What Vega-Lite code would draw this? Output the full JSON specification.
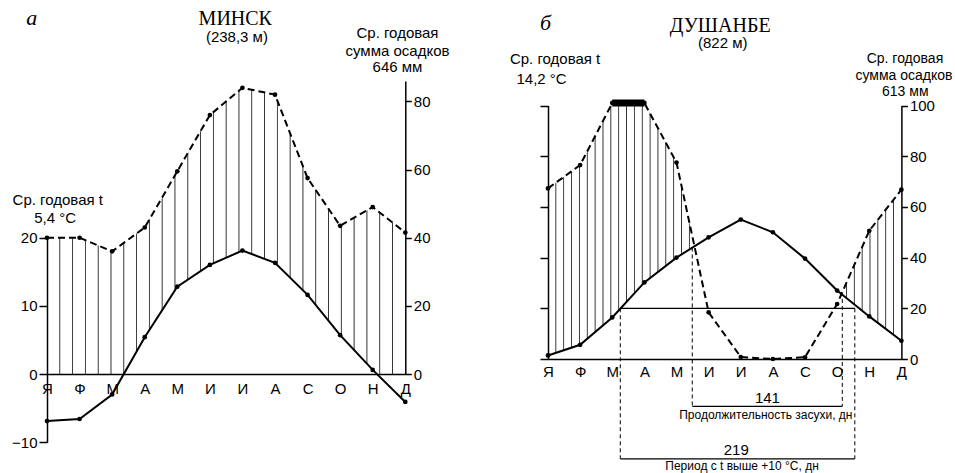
{
  "$schema": "https://vega.github.io/schema/vega-lite/v6.json",
  "background": "white",
  "padding": {"left": 11, "top": 7, "right": 0, "bottom": 0},
  "spacing": 59,
  "config": {
    "view": {"stroke": null},
    "text": {"font": "Liberation Sans", "fontSize": 15, "baseline": "alphabetic", "align": "center", "color": "black"},
    "axis": {"labelFont": "Liberation Sans", "labelFontSize": 15, "labelColor": "black", "domainColor": "black", "tickColor": "black", "domainWidth": 1.5, "tickWidth": 1.5, "grid": false}
  },
  "datasets": {
    "minsk": [
      {"month": 1, "t": -6.9, "p": 40},
      {"month": 2, "t": -6.6, "p": 40},
      {"month": 3, "t": -3.0, "p": 36},
      {"month": 4, "t": 5.4, "p": 43},
      {"month": 5, "t": 12.8, "p": 59.5},
      {"month": 6, "t": 16.0, "p": 76},
      {"month": 7, "t": 18.1, "p": 84},
      {"month": 8, "t": 16.3, "p": 82},
      {"month": 9, "t": 11.6, "p": 57.5},
      {"month": 10, "t": 5.7, "p": 43.5},
      {"month": 11, "t": 0.6, "p": 49},
      {"month": 12, "t": -4.1, "p": 41.5}
    ],
    "dushanbe": [
      {"month": 1, "t": 0.7, "p": 67.3},
      {"month": 2, "t": 2.8, "p": 76.5},
      {"month": 3, "t": 8.2, "p": 101},
      {"month": 4, "t": 15.1, "p": 101},
      {"month": 5, "t": 20.0, "p": 77.5},
      {"month": 6, "t": 24.0, "p": 18.4},
      {"month": 7, "t": 27.5, "p": 0.8},
      {"month": 8, "t": 25.0, "p": 0},
      {"month": 9, "t": 19.8, "p": 0.7},
      {"month": 10, "t": 13.5, "p": 21.7},
      {"month": 11, "t": 8.4, "p": 50.6},
      {"month": 12, "t": 3.6, "p": 66.8}
    ]
  },
  "hconcat": [
    {
      "width": 358.3,
      "height": 362,
      "data": {"name": "minsk"},
      "encoding": {
        "x": {"field": "month", "type": "quantitative", "scale": {"domain": [1, 12], "nice": false, "zero": false},
          "axis": {"values": [1,2,3,4,5,6,7,8,9,10,11,12], "labelExpr": "datum.value==1?'Я':datum.value==2?'Ф':datum.value==3?'М':datum.value==4?'А':datum.value==5?'М':datum.value==6?'И':datum.value==7?'И':datum.value==8?'А':datum.value==9?'С':datum.value==10?'О':datum.value==11?'Н':'Д'", "ticks": false, "offset": -69, "labelPadding": 7, "title": null, "labelFlush": false, "labelOverlap": false, "zindex": 1}}
      },
      "resolve": {"scale": {"y": "independent"}},
      "layer": [
        {
          "mark": {"type": "area", "opacity": 1, "fill": {"gradient": "linear", "x1": 0, "y1": 0, "x2": 1, "y2": 0, "stops": [
            {"offset": 0.0332, "color": "transparent"}, {"offset": 0.0357, "color": "#333"}, {"offset": 0.0382, "color": "transparent"},
            {"offset": 0.0689, "color": "transparent"}, {"offset": 0.0714, "color": "#333"}, {"offset": 0.0739, "color": "transparent"},
            {"offset": 0.1046, "color": "transparent"}, {"offset": 0.1071, "color": "#333"}, {"offset": 0.1096, "color": "transparent"},
            {"offset": 0.1404, "color": "transparent"}, {"offset": 0.1429, "color": "#333"}, {"offset": 0.1454, "color": "transparent"},
            {"offset": 0.1761, "color": "transparent"}, {"offset": 0.1786, "color": "#333"}, {"offset": 0.1811, "color": "transparent"},
            {"offset": 0.2118, "color": "transparent"}, {"offset": 0.2143, "color": "#333"}, {"offset": 0.2168, "color": "transparent"},
            {"offset": 0.2475, "color": "transparent"}, {"offset": 0.25, "color": "#333"}, {"offset": 0.2525, "color": "transparent"},
            {"offset": 0.2832, "color": "transparent"}, {"offset": 0.2857, "color": "#333"}, {"offset": 0.2882, "color": "transparent"},
            {"offset": 0.3189, "color": "transparent"}, {"offset": 0.3214, "color": "#333"}, {"offset": 0.3239, "color": "transparent"},
            {"offset": 0.3546, "color": "transparent"}, {"offset": 0.3571, "color": "#333"}, {"offset": 0.3596, "color": "transparent"},
            {"offset": 0.3904, "color": "transparent"}, {"offset": 0.3929, "color": "#333"}, {"offset": 0.3954, "color": "transparent"},
            {"offset": 0.4261, "color": "transparent"}, {"offset": 0.4286, "color": "#333"}, {"offset": 0.4311, "color": "transparent"},
            {"offset": 0.4618, "color": "transparent"}, {"offset": 0.4643, "color": "#333"}, {"offset": 0.4668, "color": "transparent"},
            {"offset": 0.4975, "color": "transparent"}, {"offset": 0.5, "color": "#333"}, {"offset": 0.5025, "color": "transparent"},
            {"offset": 0.5332, "color": "transparent"}, {"offset": 0.5357, "color": "#333"}, {"offset": 0.5382, "color": "transparent"},
            {"offset": 0.5689, "color": "transparent"}, {"offset": 0.5714, "color": "#333"}, {"offset": 0.5739, "color": "transparent"},
            {"offset": 0.6046, "color": "transparent"}, {"offset": 0.6071, "color": "#333"}, {"offset": 0.6096, "color": "transparent"},
            {"offset": 0.6404, "color": "transparent"}, {"offset": 0.6429, "color": "#333"}, {"offset": 0.6454, "color": "transparent"},
            {"offset": 0.6761, "color": "transparent"}, {"offset": 0.6786, "color": "#333"}, {"offset": 0.6811, "color": "transparent"},
            {"offset": 0.7118, "color": "transparent"}, {"offset": 0.7143, "color": "#333"}, {"offset": 0.7168, "color": "transparent"},
            {"offset": 0.7475, "color": "transparent"}, {"offset": 0.75, "color": "#333"}, {"offset": 0.7525, "color": "transparent"},
            {"offset": 0.7832, "color": "transparent"}, {"offset": 0.7857, "color": "#333"}, {"offset": 0.7882, "color": "transparent"},
            {"offset": 0.8189, "color": "transparent"}, {"offset": 0.8214, "color": "#333"}, {"offset": 0.8239, "color": "transparent"},
            {"offset": 0.8546, "color": "transparent"}, {"offset": 0.8571, "color": "#333"}, {"offset": 0.8596, "color": "transparent"},
            {"offset": 0.8904, "color": "transparent"}, {"offset": 0.8929, "color": "#333"}, {"offset": 0.8954, "color": "transparent"},
            {"offset": 0.9261, "color": "transparent"}, {"offset": 0.9286, "color": "#333"}, {"offset": 0.9311, "color": "transparent"},
            {"offset": 0.9618, "color": "transparent"}, {"offset": 0.9643, "color": "#333"}, {"offset": 0.9668, "color": "transparent"}
          ]}},
          "encoding": {
            "y": {"field": "p", "type": "quantitative", "scale": {"domain": [0, 86], "range": [293, 0], "nice": false, "zero": false}, "axis": null},
            "y2": {"datum": 0}
          }
        },
        {
          "layer": [
            {
              "mark": {"type": "area", "fill": "white", "opacity": 1},
              "encoding": {
                "y": {"field": "t", "type": "quantitative", "scale": {"domain": [-10, 20], "range": [361.2, 156.6], "nice": false, "zero": false},
                  "axis": {"orient": "left", "values": [-10, 0, 10, 20], "tickSize": 8, "labelPadding": 2, "title": null, "zindex": 1}},
                "y2": {"datum": 0}
              }
            },
            {
              "mark": {"type": "line", "stroke": "black", "strokeWidth": 2},
              "encoding": {"y": {"field": "t", "type": "quantitative"}}
            },
            {
              "mark": {"type": "point", "filled": true, "color": "black", "size": 22, "opacity": 1},
              "encoding": {"y": {"field": "t", "type": "quantitative"}}
            }
          ]
        },
        {
          "layer": [
            {
              "mark": {"type": "line", "stroke": "black", "strokeWidth": 2, "strokeDash": [7, 4]},
              "encoding": {"y": {"field": "p", "type": "quantitative", "scale": {"domain": [0, 86], "range": [293, 0], "nice": false, "zero": false},
                "axis": {"orient": "right", "values": [0, 20, 40, 60, 80], "tickSize": 6, "labelPadding": 2, "title": null, "zindex": 1}}}
            },
            {
              "mark": {"type": "point", "filled": true, "color": "black", "size": 22, "opacity": 1},
              "encoding": {"y": {"field": "p", "type": "quantitative"}}
            },
            {
              "transform": [{"filter": "datum.month == 1"}],
              "layer": [
                {"mark": {"type": "text", "font": "Liberation Serif", "fontStyle": "italic", "fontSize": 22, "text": "а"},
                  "encoding": {"x": {"datum": 0.53}, "y": {"datum": 102.3}}},
                {"mark": {"type": "text", "font": "Liberation Serif", "fontSize": 20, "text": "МИНСК"},
                  "encoding": {"x": {"datum": 6.78}, "y": {"datum": 102.3}}},
                {"mark": {"type": "text", "text": "(238,3 м)"},
                  "encoding": {"x": {"datum": 6.83}, "y": {"datum": 97.5}}},
                {"mark": {"type": "text", "text": "Ср. годовая"},
                  "encoding": {"x": {"datum": 11.76}, "y": {"datum": 98.7}}},
                {"mark": {"type": "text", "text": "сумма осадков"},
                  "encoding": {"x": {"datum": 11.76}, "y": {"datum": 93.3}}},
                {"mark": {"type": "text", "text": "646 мм"},
                  "encoding": {"x": {"datum": 11.76}, "y": {"datum": 88.5}}},
                {"mark": {"type": "text", "text": "Ср. годовая t"},
                  "encoding": {"x": {"datum": 1.33}, "y": {"datum": 49.6}}},
                {"mark": {"type": "text", "text": "5,4 °C"},
                  "encoding": {"x": {"datum": 1.25}, "y": {"datum": 44.2}}}
              ]
            }
          ]
        }
      ]
    },
    {
      "width": 353.4,
      "height": 278,
      "data": {"name": "dushanbe"},
      "encoding": {
        "x": {"field": "month", "type": "quantitative", "scale": {"domain": [1, 12], "nice": false, "zero": false},
          "axis": {"values": [1,2,3,4,5,6,7,8,9,10,11,12], "labelExpr": "datum.value==1?'Я':datum.value==2?'Ф':datum.value==3?'М':datum.value==4?'А':datum.value==5?'М':datum.value==6?'И':datum.value==7?'И':datum.value==8?'А':datum.value==9?'С':datum.value==10?'О':datum.value==11?'Н':'Д'", "ticks": false, "labelPadding": 5, "title": null, "labelFlush": false, "labelOverlap": false, "zindex": 1}}
      },
      "resolve": {"scale": {"y": "independent"}},
      "layer": [
        {
          "mark": {"type": "area", "opacity": 1, "fill": {"gradient": "linear", "x1": 0, "y1": 0, "x2": 1, "y2": 0, "stops": [
            {"offset": 0.0197, "color": "transparent"}, {"offset": 0.0222, "color": "#333"}, {"offset": 0.0247, "color": "transparent"},
            {"offset": 0.0419, "color": "transparent"}, {"offset": 0.0444, "color": "#333"}, {"offset": 0.0469, "color": "transparent"},
            {"offset": 0.0642, "color": "transparent"}, {"offset": 0.0667, "color": "#333"}, {"offset": 0.0692, "color": "transparent"},
            {"offset": 0.0864, "color": "transparent"}, {"offset": 0.0889, "color": "#333"}, {"offset": 0.0914, "color": "transparent"},
            {"offset": 0.1086, "color": "transparent"}, {"offset": 0.1111, "color": "#333"}, {"offset": 0.1136, "color": "transparent"},
            {"offset": 0.1308, "color": "transparent"}, {"offset": 0.1333, "color": "#333"}, {"offset": 0.1358, "color": "transparent"},
            {"offset": 0.1531, "color": "transparent"}, {"offset": 0.1556, "color": "#333"}, {"offset": 0.1581, "color": "transparent"},
            {"offset": 0.1753, "color": "transparent"}, {"offset": 0.1778, "color": "#333"}, {"offset": 0.1803, "color": "transparent"},
            {"offset": 0.1975, "color": "transparent"}, {"offset": 0.2, "color": "#333"}, {"offset": 0.2025, "color": "transparent"},
            {"offset": 0.2197, "color": "transparent"}, {"offset": 0.2222, "color": "#333"}, {"offset": 0.2247, "color": "transparent"},
            {"offset": 0.2419, "color": "transparent"}, {"offset": 0.2444, "color": "#333"}, {"offset": 0.2469, "color": "transparent"},
            {"offset": 0.2642, "color": "transparent"}, {"offset": 0.2667, "color": "#333"}, {"offset": 0.2692, "color": "transparent"},
            {"offset": 0.2864, "color": "transparent"}, {"offset": 0.2889, "color": "#333"}, {"offset": 0.2914, "color": "transparent"},
            {"offset": 0.3086, "color": "transparent"}, {"offset": 0.3111, "color": "#333"}, {"offset": 0.3136, "color": "transparent"},
            {"offset": 0.3308, "color": "transparent"}, {"offset": 0.3333, "color": "#333"}, {"offset": 0.3358, "color": "transparent"},
            {"offset": 0.3531, "color": "transparent"}, {"offset": 0.3556, "color": "#333"}, {"offset": 0.3581, "color": "transparent"},
            {"offset": 0.3753, "color": "transparent"}, {"offset": 0.3778, "color": "#333"}, {"offset": 0.3803, "color": "transparent"},
            {"offset": 0.3975, "color": "transparent"}, {"offset": 0.4, "color": "#333"}, {"offset": 0.4025, "color": "transparent"},
            {"offset": 0.4197, "color": "transparent"}, {"offset": 0.4222, "color": "#333"}, {"offset": 0.4247, "color": "transparent"},
            {"offset": 0.4419, "color": "transparent"}, {"offset": 0.4444, "color": "#333"}, {"offset": 0.4469, "color": "transparent"},
            {"offset": 0.4642, "color": "transparent"}, {"offset": 0.4667, "color": "#333"}, {"offset": 0.4692, "color": "transparent"},
            {"offset": 0.4864, "color": "transparent"}, {"offset": 0.4889, "color": "#333"}, {"offset": 0.4914, "color": "transparent"},
            {"offset": 0.5086, "color": "transparent"}, {"offset": 0.5111, "color": "#333"}, {"offset": 0.5136, "color": "transparent"},
            {"offset": 0.5308, "color": "transparent"}, {"offset": 0.5333, "color": "#333"}, {"offset": 0.5358, "color": "transparent"},
            {"offset": 0.5531, "color": "transparent"}, {"offset": 0.5556, "color": "#333"}, {"offset": 0.5581, "color": "transparent"},
            {"offset": 0.5753, "color": "transparent"}, {"offset": 0.5778, "color": "#333"}, {"offset": 0.5803, "color": "transparent"},
            {"offset": 0.5975, "color": "transparent"}, {"offset": 0.6, "color": "#333"}, {"offset": 0.6025, "color": "transparent"},
            {"offset": 0.6197, "color": "transparent"}, {"offset": 0.6222, "color": "#333"}, {"offset": 0.6247, "color": "transparent"},
            {"offset": 0.6419, "color": "transparent"}, {"offset": 0.6444, "color": "#333"}, {"offset": 0.6469, "color": "transparent"},
            {"offset": 0.6642, "color": "transparent"}, {"offset": 0.6667, "color": "#333"}, {"offset": 0.6692, "color": "transparent"},
            {"offset": 0.6864, "color": "transparent"}, {"offset": 0.6889, "color": "#333"}, {"offset": 0.6914, "color": "transparent"},
            {"offset": 0.7086, "color": "transparent"}, {"offset": 0.7111, "color": "#333"}, {"offset": 0.7136, "color": "transparent"},
            {"offset": 0.7308, "color": "transparent"}, {"offset": 0.7333, "color": "#333"}, {"offset": 0.7358, "color": "transparent"},
            {"offset": 0.7531, "color": "transparent"}, {"offset": 0.7556, "color": "#333"}, {"offset": 0.7581, "color": "transparent"},
            {"offset": 0.7753, "color": "transparent"}, {"offset": 0.7778, "color": "#333"}, {"offset": 0.7803, "color": "transparent"},
            {"offset": 0.7975, "color": "transparent"}, {"offset": 0.8, "color": "#333"}, {"offset": 0.8025, "color": "transparent"},
            {"offset": 0.8197, "color": "transparent"}, {"offset": 0.8222, "color": "#333"}, {"offset": 0.8247, "color": "transparent"},
            {"offset": 0.8419, "color": "transparent"}, {"offset": 0.8444, "color": "#333"}, {"offset": 0.8469, "color": "transparent"},
            {"offset": 0.8642, "color": "transparent"}, {"offset": 0.8667, "color": "#333"}, {"offset": 0.8692, "color": "transparent"},
            {"offset": 0.8864, "color": "transparent"}, {"offset": 0.8889, "color": "#333"}, {"offset": 0.8914, "color": "transparent"},
            {"offset": 0.9086, "color": "transparent"}, {"offset": 0.9111, "color": "#333"}, {"offset": 0.9136, "color": "transparent"},
            {"offset": 0.9308, "color": "transparent"}, {"offset": 0.9333, "color": "#333"}, {"offset": 0.9358, "color": "transparent"},
            {"offset": 0.9531, "color": "transparent"}, {"offset": 0.9556, "color": "#333"}, {"offset": 0.9581, "color": "transparent"},
            {"offset": 0.9753, "color": "transparent"}, {"offset": 0.9778, "color": "#333"}, {"offset": 0.9803, "color": "transparent"}
          ]}},
          "encoding": {
            "y": {"field": "p", "type": "quantitative", "scale": {"domain": [0, 100], "range": [278, 24.5], "nice": false, "zero": false}, "axis": null},
            "y2": {"datum": 0}
          }
        },
        {
          "layer": [
            {
              "mark": {"type": "area", "fill": "white", "opacity": 1},
              "encoding": {
                "y": {"field": "t", "type": "quantitative", "scale": {"domain": [0, 50], "range": [278, 24.5], "nice": false, "zero": false},
                  "axis": {"orient": "left", "values": [0, 10, 20, 30, 40, 50], "labels": false, "tickSize": 8, "title": null, "zindex": 1}},
                "y2": {"datum": 0}
              }
            },
            {
              "mark": {"type": "line", "stroke": "black", "strokeWidth": 2},
              "encoding": {"y": {"field": "t", "type": "quantitative"}}
            },
            {
              "mark": {"type": "point", "filled": true, "color": "black", "size": 22, "opacity": 1},
              "encoding": {"y": {"field": "t", "type": "quantitative"}}
            }
          ]
        },
        {
          "layer": [
            {
              "mark": {"type": "line", "stroke": "black", "strokeWidth": 2, "strokeDash": [7, 4]},
              "encoding": {"y": {"field": "p", "type": "quantitative", "scale": {"domain": [0, 100], "range": [278, 24.5], "nice": false, "zero": false},
                "axis": {"orient": "right", "values": [0, 20, 40, 60, 80, 100], "tickSize": 6, "labelPadding": 2, "title": null, "zindex": 1}}}
            },
            {
              "transform": [{"filter": "datum.month >= 3 && datum.month <= 4"}],
              "mark": {"type": "line", "stroke": "black", "strokeWidth": 7, "strokeCap": "butt"},
              "encoding": {"y": {"field": "p", "type": "quantitative"}}
            },
            {
              "mark": {"type": "point", "filled": true, "color": "black", "size": 22, "opacity": 1},
              "encoding": {"y": {"field": "p", "type": "quantitative"}}
            },
            {
              "transform": [{"filter": "datum.month == 1"}],
              "layer": [
                {"mark": {"type": "rule", "stroke": "black", "strokeWidth": 1.2},
                  "encoding": {"x": {"datum": 3.25}, "x2": {"datum": 10.55}, "y": {"datum": 20}}},
                {"mark": {"type": "rule", "stroke": "black", "strokeWidth": 1.2},
                  "encoding": {"x": {"datum": 3.25}, "x2": {"datum": 10.55}, "y": {"datum": -39.4}}},
                {"mark": {"type": "rule", "stroke": "black", "strokeWidth": 1.2},
                  "encoding": {"x": {"datum": 5.49}, "x2": {"datum": 10.16}, "y": {"datum": -18.7}}},
                {"mark": {"type": "rule", "stroke": "black", "strokeWidth": 1, "strokeDash": [4, 3]},
                  "encoding": {"x": {"datum": 3.25}, "y": {"datum": 20}, "y2": {"datum": -39.4}}},
                {"mark": {"type": "rule", "stroke": "black", "strokeWidth": 1, "strokeDash": [4, 3]},
                  "encoding": {"x": {"datum": 10.55}, "y": {"datum": 20}, "y2": {"datum": -39.4}}},
                {"mark": {"type": "rule", "stroke": "black", "strokeWidth": 1, "strokeDash": [4, 3]},
                  "encoding": {"x": {"datum": 5.49}, "y": {"datum": 44}, "y2": {"datum": -18.7}}},
                {"mark": {"type": "rule", "stroke": "black", "strokeWidth": 1, "strokeDash": [4, 3]},
                  "encoding": {"x": {"datum": 10.16}, "y": {"datum": 23.7}, "y2": {"datum": -18.7}}},
                {"mark": {"type": "text", "font": "Liberation Serif", "fontStyle": "italic", "fontSize": 22, "text": "б"},
                  "encoding": {"x": {"datum": 0.92}, "y": {"datum": 129.8}}},
                {"mark": {"type": "text", "font": "Liberation Serif", "fontSize": 20, "text": "ДУШАНБЕ"},
                  "encoding": {"x": {"datum": 6.36}, "y": {"datum": 129.0}}},
                {"mark": {"type": "text", "text": "(822 м)"},
                  "encoding": {"x": {"datum": 6.44}, "y": {"datum": 122.5}}},
                {"mark": {"type": "text", "text": "Ср. годовая t"},
                  "encoding": {"x": {"datum": 1.22}, "y": {"datum": 116.2}}},
                {"mark": {"type": "text", "text": "14,2 °C"},
                  "encoding": {"x": {"datum": 0.8}, "y": {"datum": 108.5}}},
                {"mark": {"type": "text", "fontSize": 14, "text": "Ср. годовая"},
                  "encoding": {"x": {"datum": 12.11}, "y": {"datum": 116.8}}},
                {"mark": {"type": "text", "fontSize": 14, "text": "сумма осадков"},
                  "encoding": {"x": {"datum": 12.08}, "y": {"datum": 109.9}}},
                {"mark": {"type": "text", "fontSize": 14, "text": "613 мм"},
                  "encoding": {"x": {"datum": 12.12}, "y": {"datum": 103.8}}},
                {"mark": {"type": "text", "text": "141"},
                  "encoding": {"x": {"datum": 7.83}, "y": {"datum": -17.3}}},
                {"mark": {"type": "text", "fontSize": 12, "text": "Продолжительность засухи, дн"},
                  "encoding": {"x": {"datum": 7.78}, "y": {"datum": -23.7}}},
                {"mark": {"type": "text", "text": "219"},
                  "encoding": {"x": {"datum": 6.86}, "y": {"datum": -37.9}}},
                {"mark": {"type": "text", "fontSize": 12, "text": "Период с t выше +10 °C, дн"},
                  "encoding": {"x": {"datum": 7.04}, "y": {"datum": -43.8}}}
              ]
            }
          ]
        }
      ]
    }
  ]
}
